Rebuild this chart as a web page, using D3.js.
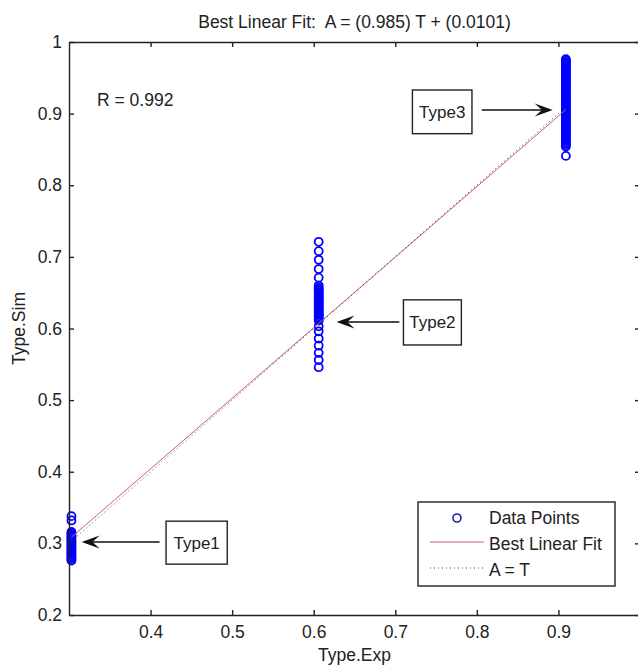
<!DOCTYPE html>
<html>
<head>
<meta charset="utf-8">
<script src="https://cdn.jsdelivr.net/npm/d3@7"></script>
<style>
  body { margin: 0; background: #fff; }
  svg text { font-family: "Liberation Sans", Arial, sans-serif; fill: #222; }
</style>
</head>
<body>
<div id="chart"></div>
<script>
// target values (T) of the three groups
var targets = [0.3030, 0.6061, 0.9091];

// simulated outputs (A), one list per group
var type1Sim = [0.338, 0.332, 0.316, 0.314, 0.312, 0.310, 0.308, 0.306, 0.304, 0.302, 0.300,
    0.298, 0.296, 0.294, 0.292, 0.290, 0.288, 0.286, 0.284, 0.282, 0.280, 0.278, 0.276];
var type2Sim = [0.721, 0.708, 0.696, 0.683, 0.671,
    0.660, 0.657, 0.655, 0.653, 0.651, 0.649, 0.647, 0.645, 0.643, 0.641, 0.639, 0.637,
    0.635, 0.633, 0.631, 0.629, 0.627, 0.625, 0.623, 0.621, 0.619, 0.617, 0.615, 0.613, 0.611,
    0.603, 0.596, 0.586, 0.576, 0.566, 0.556, 0.546];
var type3Sim = [0.976, 0.974, 0.972, 0.970, 0.968, 0.966, 0.964, 0.962, 0.960, 0.958, 0.956,
    0.954, 0.952, 0.950, 0.948, 0.946, 0.944, 0.942, 0.940, 0.938, 0.936, 0.934, 0.932, 0.930,
    0.928, 0.926, 0.924, 0.922, 0.920, 0.918, 0.916, 0.914, 0.912, 0.910, 0.908, 0.906, 0.904,
    0.902, 0.900, 0.898, 0.896, 0.894, 0.892, 0.890, 0.888, 0.886, 0.884, 0.882, 0.880, 0.878,
    0.876, 0.874, 0.872, 0.870, 0.868, 0.866, 0.864, 0.862, 0.860, 0.858, 0.856, 0.854, 0.841];

// fit coefficients
var fitSlope = 0.985, fitOffset = 0.0101, rValue = 0.992;

var xTicks = [0.4, 0.5, 0.6, 0.7, 0.8, 0.9, 1];
var xTickLabels = ["0.4", "0.5", "0.6", "0.7", "0.8", "0.9", ""];
var yTicks = [0.2, 0.3, 0.4, 0.5, 0.6, 0.7, 0.8, 0.9, 1];

// annotation labels, arrow tail/tip and box corners in data units
var annLabels = ["Type1", "Type2", "Type3"];
var annTail = [[0.411, 0.302], [0.705, 0.609], [0.806, 0.905]];
var annTip = [[0.3155, 0.302], [0.628, 0.609], [0.893, 0.905]];
var annBox = [[0.419, 0.494, 0.331, 0.271], [0.710, 0.781, 0.640, 0.577], [0.721, 0.794, 0.933, 0.872]];

var margin = { top: 42, right: 0, bottom: 51, left: 69 },
    width = 571,
    height = 573;

var svg = d3.select("#chart")
    .append("svg")
    .attr("width", 638)
    .attr("height", 666);

var g = svg.append("g")
    .attr("transform", "translate(" + margin.left + "," + margin.top + ")");

var x = d3.scaleLinear().domain([0.3, 1]).range([0, width]);
var y = d3.scaleLinear().domain([0.2, 1]).range([height, 0]);

var fontSize = "17.5px";
var axisColor = "#222";

// data points
var points = [];
[type1Sim, type2Sim, type3Sim].forEach(function (list, i) {
    list.forEach(function (v) { points.push({ t: targets[i], a: v }); });
});

g.selectAll(".pt")
    .data(points)
    .enter()
    .append("circle")
    .attr("class", "pt")
    .attr("cx", function (d) { return x(d.t); })
    .attr("cy", function (d) { return y(d.a); })
    .attr("r", 4)
    .attr("fill", "none")
    .attr("stroke", "#0000ff")
    .attr("stroke-width", 1.8);

// best linear fit
var tExtent = d3.extent(targets);
var fitLine = d3.line()
    .x(function (d) { return x(d); })
    .y(function (d) { return y(fitSlope * d + fitOffset); });

g.append("path")
    .datum(tExtent)
    .attr("fill", "none")
    .attr("stroke", "#c8606a")
    .attr("stroke-width", 1)
    .attr("d", fitLine);

// A = T
var idLine = d3.line()
    .x(function (d) { return x(d); })
    .y(function (d) { return y(d); });

g.append("path")
    .datum(tExtent)
    .attr("fill", "none")
    .attr("stroke", "#444")
    .attr("stroke-width", 1)
    .attr("stroke-dasharray", "1,3")
    .attr("d", idLine);

// axes, ticks pointing inward on all four sides
var fmt = function (d) { return String(d); };

var xAxis = g.append("g")
    .attr("transform", "translate(0," + height + ")")
    .call(d3.axisBottom(x).tickValues(xTicks)
        .tickFormat(function (d, i) { return xTickLabels[i]; })
        .tickSize(-5).tickSizeOuter(0).tickPadding(10.5));
var yAxis = g.append("g")
    .call(d3.axisLeft(y).tickValues(yTicks).tickFormat(fmt).tickSize(-5).tickSizeOuter(0).tickPadding(7));
var xTop = g.append("g")
    .call(d3.axisTop(x).tickValues(xTicks).tickFormat("").tickSize(-5).tickSizeOuter(0));
var yRight = g.append("g")
    .attr("transform", "translate(" + width + ",0)")
    .call(d3.axisRight(y).tickValues(yTicks).tickFormat("").tickSize(-5).tickSizeOuter(0));

[xAxis, yAxis, xTop, yRight].forEach(function (a) {
    a.selectAll("path, line").attr("stroke", axisColor).attr("stroke-width", 1.4);
    a.selectAll("text").style("font-size", fontSize).attr("fill", "#222");
});

// titles
svg.append("text")
    .attr("x", margin.left + width / 2)
    .attr("y", 28)
    .attr("text-anchor", "middle")
    .style("font-size", fontSize)
    .style("white-space", "pre")
    .text("Best Linear Fit:  A = (" + fitSlope + ") T + (" + fitOffset + ")");

svg.append("text")
    .attr("x", margin.left + width / 2)
    .attr("y", 661)
    .attr("text-anchor", "middle")
    .style("font-size", fontSize)
    .text("Type.Exp");

svg.append("text")
    .attr("transform", "translate(24.5," + (margin.top + height / 2) + ") rotate(-90)")
    .attr("text-anchor", "middle")
    .style("font-size", fontSize)
    .text("Type.Sim");

g.append("text")
    .attr("x", 28)
    .attr("y", 64)
    .style("font-size", fontSize)
    .text("R = " + rValue);

// annotations
annLabels.forEach(function (label, i) {
    var b = annBox[i];
    var bx0 = x(b[0]), bx1 = x(b[1]), by0 = y(b[2]), by1 = y(b[3]);
    g.append("rect")
        .attr("x", bx0)
        .attr("y", by0)
        .attr("width", bx1 - bx0)
        .attr("height", by1 - by0)
        .attr("fill", "#fff")
        .attr("stroke", axisColor)
        .attr("stroke-width", 1.4);
    g.append("text")
        .attr("x", (bx0 + bx1) / 2)
        .attr("y", (by0 + by1) / 2)
        .attr("dy", "0.35em")
        .attr("text-anchor", "middle")
        .style("font-size", "17px")
        .text(label);

    var tx = x(annTail[i][0]), ty = y(annTail[i][1]),
        px = x(annTip[i][0]), py = y(annTip[i][1]);
    var dir = px > tx ? 1 : -1;
    var L = 18, W = 6.5;
    g.append("line")
        .attr("x1", tx).attr("y1", ty)
        .attr("x2", px - dir * L * 0.6).attr("y2", py)
        .attr("stroke", "#111")
        .attr("stroke-width", 1.5);
    g.append("path")
        .attr("d", "M" + px + "," + py +
            "L" + (px - dir * L) + "," + (py - W) +
            "L" + (px - dir * L * 0.6) + "," + py +
            "L" + (px - dir * L) + "," + (py + W) + "Z")
        .attr("fill", "#111");
});

// legend
var lg = svg.append("g").attr("transform", "translate(418,502)");
lg.append("rect")
    .attr("width", 197)
    .attr("height", 84)
    .attr("fill", "#fff")
    .attr("stroke", axisColor)
    .attr("stroke-width", 1.4);
lg.append("circle")
    .attr("cx", 39).attr("cy", 16).attr("r", 4)
    .attr("fill", "none").attr("stroke", "#2020a0").attr("stroke-width", 1.6);
lg.append("line")
    .attr("x1", 12).attr("x2", 66).attr("y1", 40).attr("y2", 40)
    .attr("stroke", "#c8606a").attr("stroke-width", 1.2);
lg.append("line")
    .attr("x1", 12).attr("x2", 67).attr("y1", 66).attr("y2", 66)
    .attr("stroke", "#444").attr("stroke-width", 1).attr("stroke-dasharray", "1,3");
var legendLabels = ["Data Points", "Best Linear Fit", "A = T"];
lg.selectAll(".lt")
    .data(legendLabels)
    .enter()
    .append("text")
    .attr("x", 71)
    .attr("y", function (d, i) { return 22 + i * 26; })
    .style("font-size", fontSize)
    .text(function (d) { return d; });
</script>
</body>
</html>
